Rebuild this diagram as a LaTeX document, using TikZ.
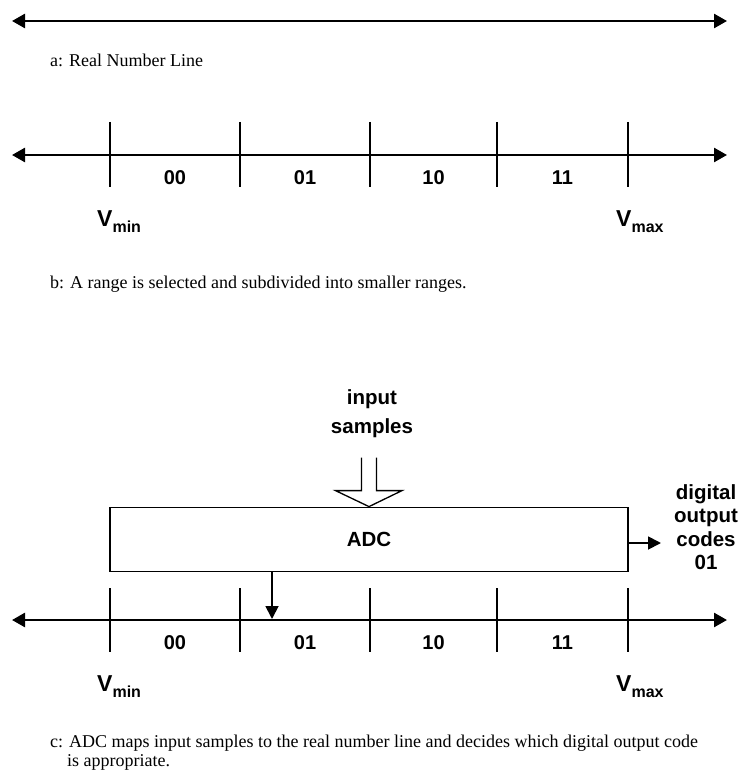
\documentclass[tikz,border=0pt]{standalone}
\usepackage{fontspec}
\setmainfont{Liberation Serif}
\setsansfont{Liberation Sans}
\usetikzlibrary{arrows.meta}
\begin{document}
\begin{tikzpicture}[x=1pt,y=-1pt,
  numline/.style={line width=2.6pt,{Triangle[length=13pt,width=14pt]}-{Triangle[length=13pt,width=14pt]}},
  tickline/.style={line width=1.8pt},
  captxt/.style={font=\fontsize{18}{19}\selectfont, inner sep=0pt},
  codetxt/.style={font=\sffamily\bfseries\fontsize{20}{20}\selectfont, inner sep=0pt},
  vtxt/.style={font=\sffamily\bfseries\fontsize{23}{23}\selectfont, inner sep=0pt, anchor=base west},
  bigtxt/.style={font=\sffamily\bfseries\fontsize{20.5}{23.5}\selectfont, inner sep=0pt, align=center},
  outarrow/.style={line width=1.8pt,-{Triangle[length=13pt,width=13pt]}},
  hollow/.style={line width=1.3pt},
  adcbox/.style={draw, line width=1.8pt, minimum width=518pt, minimum height=64pt, inner sep=0pt, font=\sffamily\bfseries\fontsize{20.5}{20.5}\selectfont}
]
\useasboundingbox (0,0) rectangle (739,773);

% ---- a ----
\coordinate (aL) at (12,21);
\coordinate (aR) at (727,21);
\draw[numline] (aL) -- (aR);
\node[captxt, anchor=base west] (capa) at (50,67) {a: Real Number Line};

% ---- b ----
\coordinate (bL) at (12,155);
\coordinate (bR) at (727,155);
\draw[numline] (bL) -- (bR);
\foreach \i/\x in {1/110,2/240,3/370,4/497,5/628}{
  \coordinate (bt\i) at (\x,122);
  \coordinate (bb\i) at (\x,187);
  \draw[tickline] (bt\i) -- (bb\i);
}
\node[codetxt] (b00) at (175,178) {00};
\node[codetxt] (b01) at (305,178) {01};
\node[codetxt] (b10) at (433.5,178) {10};
\node[codetxt] (b11) at (562.5,178) {11};
\node[vtxt] (bvmin) at (97,226) {V\raisebox{-6pt}{\fontsize{16}{16}\selectfont min}};
\node[vtxt] (bvmax) at (616,226) {V\raisebox{-6pt}{\fontsize{16}{16}\selectfont max}};
\node[captxt, anchor=base west] (capb) at (50,288) {b: A range is selected and subdivided into smaller ranges.};

% ---- c ----
\node[bigtxt, anchor=north, font=\sffamily\bfseries\fontsize{20.5}{29}\selectfont] (inp) at (372,389) {input\\samples};
\node[adcbox] (adc) at (369,539.5) {ADC};
\draw[hollow] ([xshift=-7.5pt,yshift=49pt]adc.north) -- ++(0,33) -- ++(-26,0) -- (adc.north)
  -- ++(33,-16) -- ++(-25.5,0) -- ++(0,-33);
\coordinate (outend) at (661,543);
\draw[outarrow] (adc.east |- outend) -- (outend);
\node[bigtxt, anchor=north] (outtxt) at (706,484) {digital\\output\\codes\\01};

\coordinate (cL) at (12,620);
\coordinate (cR) at (727,620);
\draw[numline] (cL) -- (cR);
\foreach \i/\x in {1/110,2/240,3/370,4/497,5/628}{
  \coordinate (ct\i) at (\x,588);
  \coordinate (cb\i) at (\x,652);
  \draw[tickline] (ct\i) -- (cb\i);
}
\coordinate (hit) at (272,619);
\draw[outarrow] (adc.south -| hit) -- (hit);
\node[codetxt] (c00) at (175,643) {00};
\node[codetxt] (c01) at (305,643) {01};
\node[codetxt] (c10) at (433.5,643) {10};
\node[codetxt] (c11) at (562.5,643) {11};
\node[vtxt] (cvmin) at (97,691) {V\raisebox{-6pt}{\fontsize{16}{16}\selectfont min}};
\node[vtxt] (cvmax) at (616,691) {V\raisebox{-6pt}{\fontsize{16}{16}\selectfont max}};
\node[captxt, anchor=north west, align=left] (capc) at (50,735)
  {c: ADC maps input samples to the real number line and decides which digital output code\\\hspace*{17pt}is appropriate.};
\end{tikzpicture}
\end{document}
